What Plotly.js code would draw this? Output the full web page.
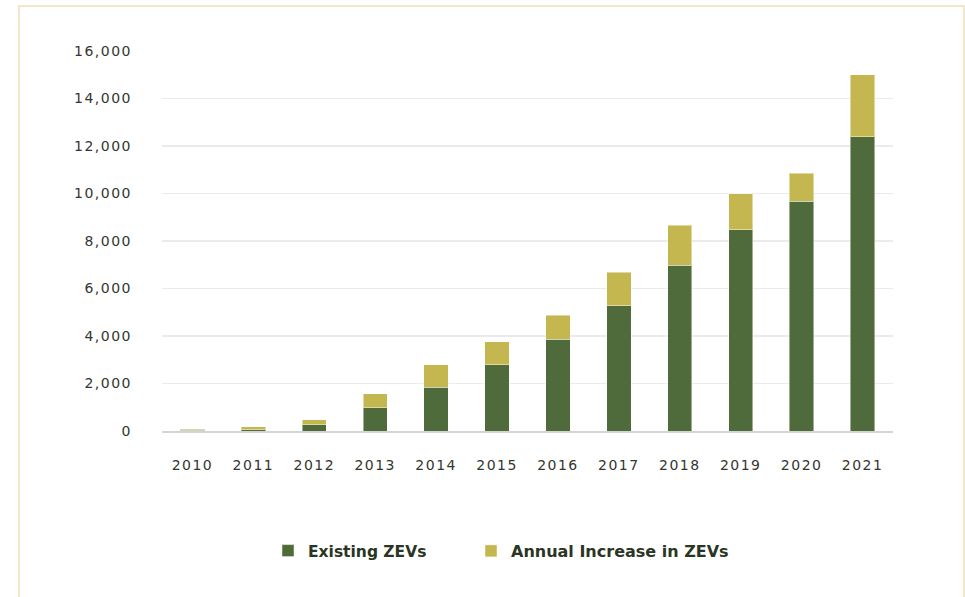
<!DOCTYPE html>
<html>
<head>
<meta charset="utf-8">
<script src="https://cdn.plot.ly/plotly-3.0.1.min.js"></script>
<style>
html,body{margin:0;padding:0;background:#fff;}
#chart{width:965px;height:597px;}
.xtick text,.ytick text{letter-spacing:1.5px;}
</style>
</head>
<body>
<div id="chart"></div>
<script>
const years = ['2010','2011','2012','2013','2014','2015','2016','2017','2018','2019','2020','2021'];
const existingZEVs = [40, 60, 265, 970, 1850, 2780, 3870, 5280, 6975, 8475, 9680, 12380];
const annualIncrease = [40, 110, 210, 600, 930, 970, 1010, 1410, 1695, 1505, 1180, 2610];
const yTickVals = [0, 2000, 4000, 6000, 8000, 10000, 12000, 14000, 16000];
const yTickText = ['0', '2,000', '4,000', '6,000', '8,000', '10,000', '12,000', '14,000', '16,000'];

const W = 965, H = 597, L = 162, R = 72, T = 51, B = 166;
const pw = W - L - R, ph = H - T - B;
const px = v => (v - L) / pw;
const py = v => (H - B - v) / ph;

const traces = [
  {type:'bar', name:'Existing ZEVs', x:years, y:existingZEVs, legend:'legend',
   marker:{color:'#506b3b', line:{color:'rgba(255,255,255,0.45)', width:1}}},
  {type:'bar', name:'Annual Increase in ZEVs', x:years, y:annualIncrease, legend:'legend2',
   marker:{color:'#c4b74f', line:{color:'rgba(255,255,255,0.45)', width:1}}}
];

const legFont = {size:15.5, color:'#2b3524', family:'"DejaVu Sans", sans-serif', weight:'bold'};

const layout = {
  width:W, height:H,
  margin:{l:L, r:R, t:T, b:B, pad:0},
  barmode:'stack', bargap:0.6,
  paper_bgcolor:'#ffffff', plot_bgcolor:'#ffffff',
  showlegend:true,
  font:{family:'"DejaVu Sans", sans-serif', color:'#333333'},
  xaxis:{type:'category', showgrid:false, showline:true, linecolor:'#d4d4d4', linewidth:2,
    ticks:'', ticklen:0, tickfont:{size:14, color:'#32372f', family:'"DejaVu Sans", sans-serif'},
    ticklabelstandoff:20, automargin:false, fixedrange:true},
  yaxis:{range:[0,16000], tickvals:yTickVals, ticktext:yTickText, showgrid:true,
    gridcolor:'#ebebeb', gridwidth:1.5, zeroline:false, showline:false, ticks:'',
    tickfont:{size:14, color:'#32372f', family:'"DejaVu Sans", sans-serif'},
    ticklabelstandoff:29, automargin:false, fixedrange:true},
  legend:{orientation:'h', x:px(268), xanchor:'left', y:py(551), yanchor:'middle',
    font:legFont, itemwidth:30, bgcolor:'rgba(0,0,0,0)'},
  legend2:{orientation:'h', x:px(471), xanchor:'left', y:py(551), yanchor:'middle',
    font:{size:16, color:'#2b3524', family:'"DejaVu Sans", sans-serif', weight:'bold'},
    itemwidth:30, bgcolor:'rgba(0,0,0,0)'},
  shapes:[
    {type:'rect', xref:'paper', yref:'paper', x0:px(19), x1:px(964), y0:py(620), y1:py(6),
     line:{color:'#f3e7c9', width:2}, fillcolor:'rgba(0,0,0,0)', layer:'below'}
  ]
};

Plotly.newPlot('chart', traces, layout, {displayModeBar:false, staticPlot:true});
</script>
</body>
</html>
